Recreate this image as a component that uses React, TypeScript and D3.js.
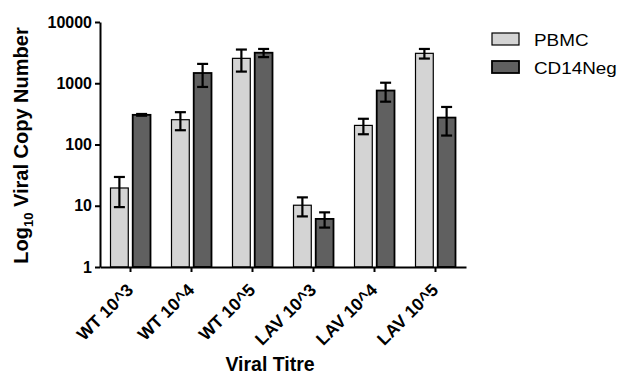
import React, { useEffect, useRef } from 'react';
import * as d3 from 'd3';

const categories = ['WT 10^3', 'WT 10^4', 'WT 10^5', 'LAV 10^3', 'LAV 10^4', 'LAV 10^5'];
const seriesNames = ['PBMC', 'CD14Neg'];
const pbmcMean = [19.5, 254, 2550, 10.2, 205, 3080];
const pbmcErr = [10, 83, 1000, 3.5, 58, 550];
const cd14Mean = [305, 1470, 3150, 6.1, 760, 275];
const cd14Err = [10, 600, 480, 1.7, 260, 135];
const yTicks = [1, 10, 100, 1000, 10000];
const colors = ['#d4d4d4', '#606060'];

const W = 621;
const H = 376;
const margin = { left: 100, top: 22, right: 155, bottom: 109 };

export default function App() {
  const ref = useRef<SVGSVGElement>(null);

  useEffect(() => {
    const svg = d3.select(ref.current);
    svg.selectAll('*').remove();
    const font = '"Liberation Sans", Arial, sans-serif';

    const x = d3.scaleBand().domain(categories).range([margin.left, W - margin.right]);
    const y = d3.scaleLog().domain([1, 10000]).range([H - margin.bottom, margin.top]);
    const x1 = d3.scaleBand().domain(seriesNames).range([-20, 20]).paddingInner(0.2);

    const series = [
      { name: 'PBMC', mean: pbmcMean, err: pbmcErr },
      { name: 'CD14Neg', mean: cd14Mean, err: cd14Err },
    ];

    const g = svg.append('g');
    series.forEach((s, si) => {
      const rows = categories.map((c, i) => ({ c, v: s.mean[i], e: s.err[i] }));
      g.selectAll(`.bar${si}`)
        .data(rows)
        .enter()
        .append('rect')
        .attr('x', d => x(d.c)! + x.bandwidth() / 2 + x1(s.name)!)
        .attr('y', d => y(d.v))
        .attr('width', x1.bandwidth())
        .attr('height', d => y(1) - y(d.v))
        .attr('fill', colors[si])
        .attr('stroke', '#000')
        .attr('stroke-width', si === 0 ? 1.2 : 1.8);

      // error bars
      rows.forEach(d => {
        const cx = x(d.c)! + x.bandwidth() / 2 + x1(s.name)! + x1.bandwidth() / 2;
        const top = y(d.v + d.e);
        const bot = y(Math.max(d.v - d.e, 1.01));
        const eg = g.append('g').attr('stroke', '#000').attr('stroke-width', 2.2);
        eg.append('line').attr('x1', cx).attr('x2', cx).attr('y1', top).attr('y2', bot);
        eg.append('line').attr('x1', cx - 5.5).attr('x2', cx + 5.5).attr('y1', top).attr('y2', top);
        eg.append('line').attr('x1', cx - 5.5).attr('x2', cx + 5.5).attr('y1', bot).attr('y2', bot);
      });
    });

    // y axis
    const yAxis = svg
      .append('g')
      .attr('transform', `translate(${margin.left},0)`)
      .call(d3.axisLeft(y).tickValues(yTicks).tickFormat(d3.format('d')).tickSize(5).tickSizeOuter(0).tickPadding(3));
    yAxis.select('.domain').attr('stroke-width', 2);
    yAxis.selectAll('.tick line').attr('stroke-width', 2);
    yAxis.selectAll('text').attr('font-family', font).attr('font-size', 16).attr('font-weight', 'bold').attr('fill', '#000');

    // x axis
    const xAxis = svg
      .append('g')
      .attr('transform', `translate(0,${y(1)})`)
      .call(d3.axisBottom(x).tickSize(5).tickSizeOuter(0));
    xAxis.select('.domain').attr('stroke-width', 2);
    xAxis.selectAll('.tick line').attr('stroke-width', 2);
    xAxis
      .selectAll('text')
      .attr('font-family', font)
      .attr('font-size', 17.5)
      .attr('font-weight', 'bold')
      .attr('fill', '#000')
      .attr('text-anchor', 'end')
      .attr('dy', 0)
      .attr('y', 0)
      .attr('transform', 'translate(4,24) rotate(-45)');

    // axis titles
    const yt = svg
      .append('text')
      .attr('transform', `translate(28,${(margin.top + y(1)) / 2 + 1}) rotate(-90)`)
      .attr('text-anchor', 'middle')
      .attr('font-family', font)
      .attr('font-size', 20)
      .attr('font-weight', 'bold');
    yt.append('tspan').text('Log');
    yt.append('tspan').attr('font-size', 13).attr('dy', 5).text('10');
    yt.append('tspan').attr('dy', -5).text(' Viral Copy Number');

    svg
      .append('text')
      .attr('x', 270)
      .attr('y', 371)
      .attr('text-anchor', 'middle')
      .attr('font-family', font)
      .attr('font-size', 19.5)
      .attr('font-weight', 'bold')
      .text('Viral Titre');

    // legend
    const lg = svg.append('g').attr('transform', 'translate(492,33)');
    seriesNames.forEach((n, i) => {
      lg.append('rect')
        .attr('x', 0)
        .attr('y', i * 28)
        .attr('width', 27)
        .attr('height', 12)
        .attr('fill', colors[i])
        .attr('stroke', '#000')
        .attr('stroke-width', i === 0 ? 1.2 : 1.8);
      lg.append('text')
        .attr('transform', `translate(42,${i * 28 + 13}) scale(1.18,1)`)
        .attr('font-family', font)
        .attr('font-size', 16)
        .text(n);
    });
  }, []);

  return (
    <div style={{ position: 'fixed', left: 0, top: 0 }}>
      <svg ref={ref} width={W} height={H} style={{ display: 'block', background: '#fff' }} />
    </div>
  );
}
